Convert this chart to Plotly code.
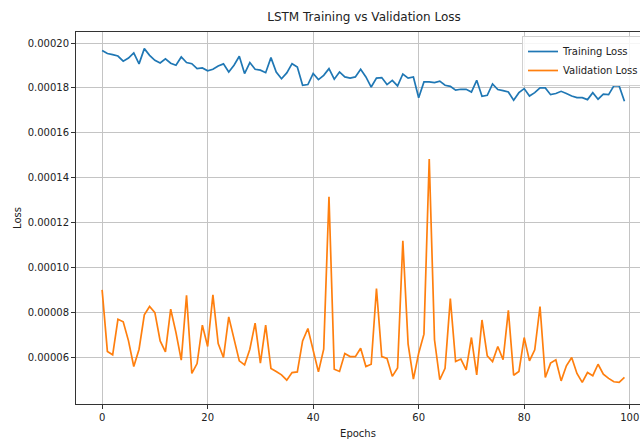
import plotly.graph_objects as go

epochs = list(range(100))

training_loss = [
    19.67, 19.53, 19.48, 19.42, 19.19, 19.33, 19.56, 19.07, 19.75, 19.45,
    19.23, 19.11, 19.30, 19.10, 19.01, 19.38, 19.13, 19.08, 18.86, 18.89,
    18.76, 18.83, 18.98, 19.07, 18.71, 19.01, 19.41, 18.64, 19.13, 18.83,
    18.79, 18.68, 19.35, 18.71, 18.41, 18.67, 19.08, 18.93, 18.12, 18.15,
    18.64, 18.37, 18.56, 18.86, 18.39, 18.71, 18.49, 18.44, 18.49, 18.83,
    18.49, 18.04, 18.44, 18.46, 18.15, 18.34, 18.09, 18.62, 18.44, 18.49,
    17.56, 18.27, 18.27, 18.24, 18.30, 18.12, 18.07, 17.90, 17.94, 17.94,
    17.82, 18.34, 17.63, 17.67, 18.18, 17.93, 17.88, 17.82, 17.45, 17.79,
    17.97, 17.64, 17.79, 18.00, 18.00, 17.70, 17.75, 17.85, 17.75, 17.64,
    17.57, 17.57, 17.48, 17.79, 17.50, 17.72, 17.70, 18.09, 18.09, 17.41,
]

validation_loss = [
    9.01, 6.27, 6.12, 7.70, 7.59, 6.74, 5.60, 6.37, 7.90, 8.27,
    8.00, 6.74, 6.25, 8.15, 7.11, 5.88, 8.77, 5.29, 5.73, 7.44,
    6.49, 8.79, 6.62, 6.00, 7.81, 6.89, 5.85, 5.67, 6.37, 7.53,
    5.75, 7.44, 5.51, 5.38, 5.23, 4.99, 5.33, 5.36, 6.74, 7.29,
    6.30, 5.36, 6.37, 13.16, 5.48, 5.38, 6.18, 6.04, 6.04, 6.41,
    5.60, 5.70, 9.07, 6.04, 5.96, 5.16, 5.53, 11.19, 6.59, 5.04,
    6.19, 7.04, 14.84, 6.79, 5.01, 5.52, 8.62, 5.82, 5.93, 5.45,
    6.89, 5.23, 7.67, 6.07, 5.82, 6.49, 5.90, 8.10, 5.21, 5.38,
    6.89, 5.85, 6.34, 8.27, 5.11, 5.75, 5.90, 4.96, 5.63, 6.00,
    5.29, 4.89, 5.33, 5.19, 5.70, 5.26, 5.07, 4.92, 4.89, 5.11,
]

scale = 1e-5
train_vals = [v * scale for v in training_loss]
val_vals = [v * scale for v in validation_loss]

x_ticks = [0, 20, 40, 60, 80, 100]
y_ticks = [0.00006, 0.00008, 0.00010, 0.00012, 0.00014, 0.00016, 0.00018, 0.00020]

font_family = "DejaVu Sans"

fig = go.Figure()
fig.add_trace(go.Scatter(x=epochs, y=train_vals, mode="lines", name="Training Loss",
                         line=dict(color="#1f77b4", width=1.7)))
fig.add_trace(go.Scatter(x=epochs, y=val_vals, mode="lines", name="Validation Loss",
                         line=dict(color="#ff7f0e", width=1.7)))

axis_common = dict(
    showline=True, linecolor="#333333", linewidth=1,
    showgrid=True, gridcolor="#c4c4c4", gridwidth=0.9,
    ticks="outside", ticklen=4, tickwidth=1, tickcolor="#333333",
    zeroline=False, automargin=False,
    tickfont=dict(family=font_family, size=10, color="#222222"),
)

fig.update_layout(
    width=640, height=440,
    margin=dict(l=76, r=0, t=32, b=36, autoexpand=False),
    paper_bgcolor="white", plot_bgcolor="white",
    font=dict(family=font_family, size=10, color="#222222"),
    title=dict(text="LSTM Training vs Validation Loss", x=364 / 640, xref="container",
               xanchor="center", y=1 - 17 / 440, yref="container", yanchor="middle",
               font=dict(family=font_family, size=12, color="#222222")),
    xaxis=dict(range=[-4.95, 101.95], tickvals=x_ticks, mirror=True,
               ticklabeloverflow="allow",
               title=dict(text="Epochs", standoff=7,
                          font=dict(family=font_family, size=10, color="#222222")),
               **axis_common),
    yaxis=dict(range=[3.93e-5, 20.49e-5], tickvals=y_ticks, tickformat=".5f",
               title=dict(text="Loss", standoff=4,
                          font=dict(family=font_family, size=10, color="#222222")),
               **axis_common),
    legend=dict(x=(522 - 76) / 564, y=(404 - 36) / 372, xanchor="left", yanchor="top",
                bgcolor="rgba(255,255,255,0.85)", bordercolor="#d0d0d0", borderwidth=1,
                font=dict(family=font_family, size=10, color="#222222"),
                itemwidth=30, tracegroupgap=0),
)

fig.write_html("out.html")
